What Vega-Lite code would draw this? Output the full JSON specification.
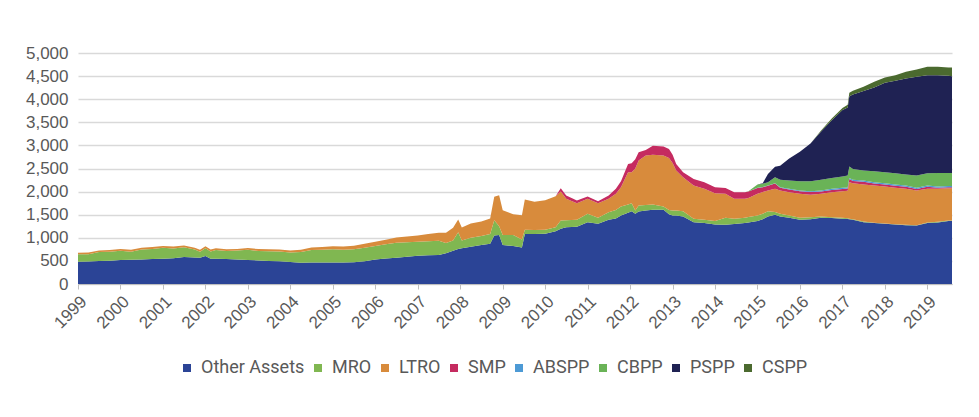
{
  "$schema": "https://vega.github.io/schema/vega-lite/v6.json",
  "width": 874,
  "height": 231,
  "autosize": {"type": "none"},
  "padding": {"left": 78, "top": 53, "right": 27, "bottom": 133},
  "background": "white",
  "data": {"values": [
    {"date": "1999-01-01", "Other Assets": 482, "MRO": 160, "LTRO": 35, "SMP": 0, "ABSPP": 0, "CBPP": 0, "PSPP": 0, "CSPP": 0},
    {"date": "1999-04-01", "Other Assets": 485, "MRO": 157, "LTRO": 38, "SMP": 0, "ABSPP": 0, "CBPP": 0, "PSPP": 0, "CSPP": 0},
    {"date": "1999-07-01", "Other Assets": 500, "MRO": 190, "LTRO": 35, "SMP": 0, "ABSPP": 0, "CBPP": 0, "PSPP": 0, "CSPP": 0},
    {"date": "1999-10-01", "Other Assets": 505, "MRO": 195, "LTRO": 35, "SMP": 0, "ABSPP": 0, "CBPP": 0, "PSPP": 0, "CSPP": 0},
    {"date": "2000-01-01", "Other Assets": 519, "MRO": 201, "LTRO": 40, "SMP": 0, "ABSPP": 0, "CBPP": 0, "PSPP": 0, "CSPP": 0},
    {"date": "2000-04-01", "Other Assets": 525, "MRO": 175, "LTRO": 40, "SMP": 0, "ABSPP": 0, "CBPP": 0, "PSPP": 0, "CSPP": 0},
    {"date": "2000-07-01", "Other Assets": 533, "MRO": 212, "LTRO": 40, "SMP": 0, "ABSPP": 0, "CBPP": 0, "PSPP": 0, "CSPP": 0},
    {"date": "2000-10-01", "Other Assets": 540, "MRO": 220, "LTRO": 40, "SMP": 0, "ABSPP": 0, "CBPP": 0, "PSPP": 0, "CSPP": 0},
    {"date": "2001-01-01", "Other Assets": 548, "MRO": 237, "LTRO": 40, "SMP": 0, "ABSPP": 0, "CBPP": 0, "PSPP": 0, "CSPP": 0},
    {"date": "2001-04-01", "Other Assets": 560, "MRO": 210, "LTRO": 40, "SMP": 0, "ABSPP": 0, "CBPP": 0, "PSPP": 0, "CSPP": 0},
    {"date": "2001-07-01", "Other Assets": 585, "MRO": 210, "LTRO": 40, "SMP": 0, "ABSPP": 0, "CBPP": 0, "PSPP": 0, "CSPP": 0},
    {"date": "2001-10-01", "Other Assets": 575, "MRO": 170, "LTRO": 40, "SMP": 0, "ABSPP": 0, "CBPP": 0, "PSPP": 0, "CSPP": 0},
    {"date": "2001-11-15", "Other Assets": 570, "MRO": 130, "LTRO": 40, "SMP": 0, "ABSPP": 0, "CBPP": 0, "PSPP": 0, "CSPP": 0},
    {"date": "2002-01-01", "Other Assets": 605, "MRO": 170, "LTRO": 40, "SMP": 0, "ABSPP": 0, "CBPP": 0, "PSPP": 0, "CSPP": 0},
    {"date": "2002-02-15", "Other Assets": 545, "MRO": 160, "LTRO": 40, "SMP": 0, "ABSPP": 0, "CBPP": 0, "PSPP": 0, "CSPP": 0},
    {"date": "2002-04-01", "Other Assets": 545, "MRO": 190, "LTRO": 40, "SMP": 0, "ABSPP": 0, "CBPP": 0, "PSPP": 0, "CSPP": 0},
    {"date": "2002-07-01", "Other Assets": 540, "MRO": 175, "LTRO": 35, "SMP": 0, "ABSPP": 0, "CBPP": 0, "PSPP": 0, "CSPP": 0},
    {"date": "2002-10-01", "Other Assets": 530, "MRO": 195, "LTRO": 35, "SMP": 0, "ABSPP": 0, "CBPP": 0, "PSPP": 0, "CSPP": 0},
    {"date": "2003-01-01", "Other Assets": 519, "MRO": 221, "LTRO": 40, "SMP": 0, "ABSPP": 0, "CBPP": 0, "PSPP": 0, "CSPP": 0},
    {"date": "2003-04-01", "Other Assets": 510, "MRO": 205, "LTRO": 40, "SMP": 0, "ABSPP": 0, "CBPP": 0, "PSPP": 0, "CSPP": 0},
    {"date": "2003-07-01", "Other Assets": 500, "MRO": 210, "LTRO": 40, "SMP": 0, "ABSPP": 0, "CBPP": 0, "PSPP": 0, "CSPP": 0},
    {"date": "2003-10-01", "Other Assets": 490, "MRO": 215, "LTRO": 40, "SMP": 0, "ABSPP": 0, "CBPP": 0, "PSPP": 0, "CSPP": 0},
    {"date": "2004-01-01", "Other Assets": 476, "MRO": 204, "LTRO": 45, "SMP": 0, "ABSPP": 0, "CBPP": 0, "PSPP": 0, "CSPP": 0},
    {"date": "2004-04-01", "Other Assets": 461, "MRO": 229, "LTRO": 50, "SMP": 0, "ABSPP": 0, "CBPP": 0, "PSPP": 0, "CSPP": 0},
    {"date": "2004-07-01", "Other Assets": 468, "MRO": 267, "LTRO": 55, "SMP": 0, "ABSPP": 0, "CBPP": 0, "PSPP": 0, "CSPP": 0},
    {"date": "2004-10-01", "Other Assets": 468, "MRO": 272, "LTRO": 60, "SMP": 0, "ABSPP": 0, "CBPP": 0, "PSPP": 0, "CSPP": 0},
    {"date": "2005-01-01", "Other Assets": 468, "MRO": 282, "LTRO": 65, "SMP": 0, "ABSPP": 0, "CBPP": 0, "PSPP": 0, "CSPP": 0},
    {"date": "2005-04-01", "Other Assets": 468, "MRO": 272, "LTRO": 70, "SMP": 0, "ABSPP": 0, "CBPP": 0, "PSPP": 0, "CSPP": 0},
    {"date": "2005-07-01", "Other Assets": 470, "MRO": 280, "LTRO": 80, "SMP": 0, "ABSPP": 0, "CBPP": 0, "PSPP": 0, "CSPP": 0},
    {"date": "2005-10-01", "Other Assets": 495, "MRO": 290, "LTRO": 85, "SMP": 0, "ABSPP": 0, "CBPP": 0, "PSPP": 0, "CSPP": 0},
    {"date": "2006-01-01", "Other Assets": 533, "MRO": 288, "LTRO": 93, "SMP": 0, "ABSPP": 0, "CBPP": 0, "PSPP": 0, "CSPP": 0},
    {"date": "2006-04-01", "Other Assets": 550, "MRO": 310, "LTRO": 100, "SMP": 0, "ABSPP": 0, "CBPP": 0, "PSPP": 0, "CSPP": 0},
    {"date": "2006-07-01", "Other Assets": 569, "MRO": 324, "LTRO": 115, "SMP": 0, "ABSPP": 0, "CBPP": 0, "PSPP": 0, "CSPP": 0},
    {"date": "2006-10-01", "Other Assets": 590, "MRO": 315, "LTRO": 125, "SMP": 0, "ABSPP": 0, "CBPP": 0, "PSPP": 0, "CSPP": 0},
    {"date": "2007-01-01", "Other Assets": 612, "MRO": 302, "LTRO": 137, "SMP": 0, "ABSPP": 0, "CBPP": 0, "PSPP": 0, "CSPP": 0},
    {"date": "2007-04-01", "Other Assets": 620, "MRO": 305, "LTRO": 155, "SMP": 0, "ABSPP": 0, "CBPP": 0, "PSPP": 0, "CSPP": 0},
    {"date": "2007-07-01", "Other Assets": 626, "MRO": 310, "LTRO": 173, "SMP": 0, "ABSPP": 0, "CBPP": 0, "PSPP": 0, "CSPP": 0},
    {"date": "2007-09-01", "Other Assets": 665, "MRO": 220, "LTRO": 225, "SMP": 0, "ABSPP": 0, "CBPP": 0, "PSPP": 0, "CSPP": 0},
    {"date": "2007-11-01", "Other Assets": 720, "MRO": 220, "LTRO": 280, "SMP": 0, "ABSPP": 0, "CBPP": 0, "PSPP": 0, "CSPP": 0},
    {"date": "2007-12-15", "Other Assets": 760, "MRO": 360, "LTRO": 277, "SMP": 0, "ABSPP": 0, "CBPP": 0, "PSPP": 0, "CSPP": 0},
    {"date": "2008-01-15", "Other Assets": 775, "MRO": 165, "LTRO": 284, "SMP": 0, "ABSPP": 0, "CBPP": 0, "PSPP": 0, "CSPP": 0},
    {"date": "2008-04-01", "Other Assets": 806, "MRO": 194, "LTRO": 310, "SMP": 0, "ABSPP": 0, "CBPP": 0, "PSPP": 0, "CSPP": 0},
    {"date": "2008-07-01", "Other Assets": 842, "MRO": 195, "LTRO": 317, "SMP": 0, "ABSPP": 0, "CBPP": 0, "PSPP": 0, "CSPP": 0},
    {"date": "2008-09-15", "Other Assets": 870, "MRO": 210, "LTRO": 338, "SMP": 0, "ABSPP": 0, "CBPP": 0, "PSPP": 0, "CSPP": 0},
    {"date": "2008-10-20", "Other Assets": 1050, "MRO": 330, "LTRO": 506, "SMP": 0, "ABSPP": 0, "CBPP": 0, "PSPP": 0, "CSPP": 0},
    {"date": "2008-12-01", "Other Assets": 1060, "MRO": 190, "LTRO": 672, "SMP": 0, "ABSPP": 0, "CBPP": 0, "PSPP": 0, "CSPP": 0},
    {"date": "2009-01-01", "Other Assets": 842, "MRO": 216, "LTRO": 540, "SMP": 0, "ABSPP": 0, "CBPP": 0, "PSPP": 0, "CSPP": 0},
    {"date": "2009-04-01", "Other Assets": 821, "MRO": 237, "LTRO": 454, "SMP": 0, "ABSPP": 0, "CBPP": 0, "PSPP": 0, "CSPP": 0},
    {"date": "2009-06-15", "Other Assets": 792, "MRO": 173, "LTRO": 525, "SMP": 0, "ABSPP": 0, "CBPP": 0, "PSPP": 0, "CSPP": 0},
    {"date": "2009-07-10", "Other Assets": 1080, "MRO": 95, "LTRO": 654, "SMP": 0, "ABSPP": 0, "CBPP": 0, "PSPP": 0, "CSPP": 0},
    {"date": "2009-10-01", "Other Assets": 1080, "MRO": 90, "LTRO": 608, "SMP": 0, "ABSPP": 0, "CBPP": 0, "PSPP": 0, "CSPP": 0},
    {"date": "2010-01-01", "Other Assets": 1085, "MRO": 90, "LTRO": 639, "SMP": 0, "ABSPP": 0, "CBPP": 0, "PSPP": 0, "CSPP": 0},
    {"date": "2010-04-01", "Other Assets": 1140, "MRO": 91, "LTRO": 669, "SMP": 0, "ABSPP": 0, "CBPP": 0, "PSPP": 0, "CSPP": 0},
    {"date": "2010-05-15", "Other Assets": 1195, "MRO": 180, "LTRO": 625, "SMP": 70, "ABSPP": 0, "CBPP": 0, "PSPP": 0, "CSPP": 0},
    {"date": "2010-07-01", "Other Assets": 1231, "MRO": 149, "LTRO": 463, "SMP": 72, "ABSPP": 0, "CBPP": 0, "PSPP": 0, "CSPP": 0},
    {"date": "2010-10-01", "Other Assets": 1240, "MRO": 150, "LTRO": 360, "SMP": 57, "ABSPP": 0, "CBPP": 0, "PSPP": 0, "CSPP": 0},
    {"date": "2011-01-01", "Other Assets": 1339, "MRO": 180, "LTRO": 324, "SMP": 51, "ABSPP": 0, "CBPP": 0, "PSPP": 0, "CSPP": 0},
    {"date": "2011-04-01", "Other Assets": 1303, "MRO": 130, "LTRO": 317, "SMP": 43, "ABSPP": 0, "CBPP": 0, "PSPP": 0, "CSPP": 0},
    {"date": "2011-07-01", "Other Assets": 1390, "MRO": 165, "LTRO": 288, "SMP": 72, "ABSPP": 0, "CBPP": 0, "PSPP": 0, "CSPP": 0},
    {"date": "2011-09-01", "Other Assets": 1420, "MRO": 180, "LTRO": 351, "SMP": 109, "ABSPP": 0, "CBPP": 0, "PSPP": 0, "CSPP": 0},
    {"date": "2011-10-15", "Other Assets": 1483, "MRO": 195, "LTRO": 417, "SMP": 130, "ABSPP": 0, "CBPP": 0, "PSPP": 0, "CSPP": 0},
    {"date": "2011-12-15", "Other Assets": 1540, "MRO": 180, "LTRO": 699, "SMP": 181, "ABSPP": 0, "CBPP": 0, "PSPP": 0, "CSPP": 0},
    {"date": "2012-01-15", "Other Assets": 1577, "MRO": 173, "LTRO": 669, "SMP": 195, "ABSPP": 0, "CBPP": 0, "PSPP": 0, "CSPP": 0},
    {"date": "2012-02-15", "Other Assets": 1519, "MRO": 72, "LTRO": 909, "SMP": 200, "ABSPP": 0, "CBPP": 0, "PSPP": 0, "CSPP": 0},
    {"date": "2012-03-15", "Other Assets": 1570, "MRO": 130, "LTRO": 971, "SMP": 180, "ABSPP": 0, "CBPP": 0, "PSPP": 0, "CSPP": 0},
    {"date": "2012-05-15", "Other Assets": 1590, "MRO": 120, "LTRO": 1069, "SMP": 123, "ABSPP": 0, "CBPP": 0, "PSPP": 0, "CSPP": 0},
    {"date": "2012-07-15", "Other Assets": 1606, "MRO": 115, "LTRO": 1079, "SMP": 195, "ABSPP": 0, "CBPP": 0, "PSPP": 0, "CSPP": 0},
    {"date": "2012-10-15", "Other Assets": 1606, "MRO": 72, "LTRO": 1101, "SMP": 195, "ABSPP": 0, "CBPP": 0, "PSPP": 0, "CSPP": 0},
    {"date": "2012-12-01", "Other Assets": 1510, "MRO": 90, "LTRO": 1129, "SMP": 194, "ABSPP": 0, "CBPP": 0, "PSPP": 0, "CSPP": 0},
    {"date": "2013-01-01", "Other Assets": 1483, "MRO": 108, "LTRO": 1029, "SMP": 180, "ABSPP": 0, "CBPP": 0, "PSPP": 0, "CSPP": 0},
    {"date": "2013-02-01", "Other Assets": 1483, "MRO": 108, "LTRO": 864, "SMP": 144, "ABSPP": 0, "CBPP": 0, "PSPP": 0, "CSPP": 0},
    {"date": "2013-04-01", "Other Assets": 1462, "MRO": 115, "LTRO": 734, "SMP": 108, "ABSPP": 0, "CBPP": 0, "PSPP": 0, "CSPP": 0},
    {"date": "2013-07-01", "Other Assets": 1339, "MRO": 72, "LTRO": 720, "SMP": 144, "ABSPP": 0, "CBPP": 0, "PSPP": 0, "CSPP": 0},
    {"date": "2013-10-01", "Other Assets": 1318, "MRO": 72, "LTRO": 669, "SMP": 144, "ABSPP": 0, "CBPP": 0, "PSPP": 0, "CSPP": 0},
    {"date": "2014-01-01", "Other Assets": 1289, "MRO": 72, "LTRO": 605, "SMP": 129, "ABSPP": 0, "CBPP": 0, "PSPP": 0, "CSPP": 0},
    {"date": "2014-04-01", "Other Assets": 1282, "MRO": 151, "LTRO": 518, "SMP": 129, "ABSPP": 0, "CBPP": 0, "PSPP": 0, "CSPP": 0},
    {"date": "2014-06-15", "Other Assets": 1300, "MRO": 111, "LTRO": 432, "SMP": 144, "ABSPP": 0, "CBPP": 0, "PSPP": 0, "CSPP": 0},
    {"date": "2014-09-15", "Other Assets": 1318, "MRO": 115, "LTRO": 410, "SMP": 144, "ABSPP": 0, "CBPP": 0, "PSPP": 0, "CSPP": 0},
    {"date": "2014-10-15", "Other Assets": 1330, "MRO": 120, "LTRO": 410, "SMP": 140, "ABSPP": 0, "CBPP": 10, "PSPP": 0, "CSPP": 0},
    {"date": "2015-01-01", "Other Assets": 1361, "MRO": 122, "LTRO": 468, "SMP": 127, "ABSPP": 3, "CBPP": 72, "PSPP": 0, "CSPP": 0},
    {"date": "2015-02-15", "Other Assets": 1400, "MRO": 120, "LTRO": 470, "SMP": 106, "ABSPP": 4, "CBPP": 70, "PSPP": 10, "CSPP": 0},
    {"date": "2015-04-01", "Other Assets": 1462, "MRO": 115, "LTRO": 446, "SMP": 102, "ABSPP": 6, "CBPP": 72, "PSPP": 180, "CSPP": 0},
    {"date": "2015-06-01", "Other Assets": 1498, "MRO": 62, "LTRO": 499, "SMP": 115, "ABSPP": 8, "CBPP": 129, "PSPP": 227, "CSPP": 0},
    {"date": "2015-07-15", "Other Assets": 1462, "MRO": 57, "LTRO": 504, "SMP": 63, "ABSPP": 9, "CBPP": 159, "PSPP": 306, "CSPP": 0},
    {"date": "2015-10-01", "Other Assets": 1433, "MRO": 50, "LTRO": 504, "SMP": 58, "ABSPP": 14, "CBPP": 180, "PSPP": 479, "CSPP": 0},
    {"date": "2016-01-01", "Other Assets": 1390, "MRO": 43, "LTRO": 518, "SMP": 56, "ABSPP": 16, "CBPP": 202, "PSPP": 637, "CSPP": 0},
    {"date": "2016-04-01", "Other Assets": 1404, "MRO": 43, "LTRO": 483, "SMP": 61, "ABSPP": 18, "CBPP": 216, "PSPP": 818, "CSPP": 0},
    {"date": "2016-07-01", "Other Assets": 1433, "MRO": 29, "LTRO": 489, "SMP": 52, "ABSPP": 20, "CBPP": 231, "PSPP": 1046, "CSPP": 20},
    {"date": "2016-10-01", "Other Assets": 1426, "MRO": 21, "LTRO": 540, "SMP": 50, "ABSPP": 22, "CBPP": 238, "PSPP": 1250, "CSPP": 33},
    {"date": "2017-01-01", "Other Assets": 1411, "MRO": 22, "LTRO": 576, "SMP": 49, "ABSPP": 23, "CBPP": 245, "PSPP": 1438, "CSPP": 46},
    {"date": "2017-02-15", "Other Assets": 1405, "MRO": 20, "LTRO": 595, "SMP": 46, "ABSPP": 24, "CBPP": 257, "PSPP": 1474, "CSPP": 59},
    {"date": "2017-03-01", "Other Assets": 1400, "MRO": 15, "LTRO": 788, "SMP": 69, "ABSPP": 25, "CBPP": 245, "PSPP": 1524, "CSPP": 73},
    {"date": "2017-04-01", "Other Assets": 1390, "MRO": 10, "LTRO": 782, "SMP": 47, "ABSPP": 25, "CBPP": 237, "PSPP": 1611, "CSPP": 80},
    {"date": "2017-07-01", "Other Assets": 1339, "MRO": 14, "LTRO": 800, "SMP": 60, "ABSPP": 26, "CBPP": 216, "PSPP": 1720, "CSPP": 93},
    {"date": "2017-10-01", "Other Assets": 1318, "MRO": 7, "LTRO": 806, "SMP": 46, "ABSPP": 26, "CBPP": 238, "PSPP": 1813, "CSPP": 122},
    {"date": "2018-01-01", "Other Assets": 1303, "MRO": 7, "LTRO": 800, "SMP": 46, "ABSPP": 26, "CBPP": 237, "PSPP": 1936, "CSPP": 115},
    {"date": "2018-04-01", "Other Assets": 1289, "MRO": 7, "LTRO": 785, "SMP": 45, "ABSPP": 27, "CBPP": 245, "PSPP": 2000, "CSPP": 123},
    {"date": "2018-07-01", "Other Assets": 1274, "MRO": 8, "LTRO": 777, "SMP": 45, "ABSPP": 27, "CBPP": 238, "PSPP": 2079, "CSPP": 145},
    {"date": "2018-10-01", "Other Assets": 1267, "MRO": 7, "LTRO": 749, "SMP": 31, "ABSPP": 27, "CBPP": 266, "PSPP": 2138, "CSPP": 158},
    {"date": "2019-01-01", "Other Assets": 1318, "MRO": 14, "LTRO": 727, "SMP": 45, "ABSPP": 27, "CBPP": 267, "PSPP": 2123, "CSPP": 180},
    {"date": "2019-04-01", "Other Assets": 1332, "MRO": 14, "LTRO": 713, "SMP": 24, "ABSPP": 27, "CBPP": 295, "PSPP": 2116, "CSPP": 180},
    {"date": "2019-07-01", "Other Assets": 1361, "MRO": 14, "LTRO": 695, "SMP": 23, "ABSPP": 27, "CBPP": 285, "PSPP": 2101, "CSPP": 181},
    {"date": "2019-08-01", "Other Assets": 1361, "MRO": 14, "LTRO": 695, "SMP": 23, "ABSPP": 27, "CBPP": 285, "PSPP": 2094, "CSPP": 188}
  ]},
  "transform": [
    {"fold": ["Other Assets", "MRO", "LTRO", "SMP", "ABSPP", "CBPP", "PSPP", "CSPP"], "as": ["series", "value"]},
    {"window": [{"op": "row_number", "as": "layer"}], "groupby": ["date"]}
  ],
  "mark": {"type": "area", "interpolate": "linear"},
  "encoding": {
    "x": {
      "field": "date", "type": "temporal",
      "scale": {"domain": ["1999-01-01", "2019-08-01"]},
      "axis": {
        "title": null, "format": "%Y", "tickCount": {"interval": "year", "step": 1},
        "labelAngle": -45, "grid": false, "domainColor": "#BFBFBF", "tickColor": "#BFBFBF",
        "tickSize": 5, "labelFont": "Liberation Sans", "labelFontSize": 17, "labelColor": "#595959",
        "labelOverlap": false, "labelPadding": 4
      }
    },
    "y": {
      "field": "value", "type": "quantitative", "stack": "zero",
      "scale": {"domain": [0, 5000], "nice": false},
      "axis": {
        "title": null, "values": [0, 500, 1000, 1500, 2000, 2500, 3000, 3500, 4000, 4500, 5000],
        "format": ",d", "domain": false, "ticks": false, "gridColor": "#D9D9D9", "gridWidth": 1.5,
        "labelFont": "Liberation Sans", "labelFontSize": 17, "labelColor": "#595959", "labelPadding": 10
      }
    },
    "order": {"field": "layer", "type": "quantitative", "sort": "ascending"},
    "color": {
      "field": "series", "type": "nominal",
      "sort": ["Other Assets", "MRO", "LTRO", "SMP", "ABSPP", "CBPP", "PSPP", "CSPP"],
      "scale": {
        "domain": ["Other Assets", "MRO", "LTRO", "SMP", "ABSPP", "CBPP", "PSPP", "CSPP"],
        "range": ["#2B4496", "#80B751", "#D88B3C", "#C52B60", "#4D9AD5", "#6AB357", "#1F2253", "#4B6A2F"]
      },
      "legend": {
        "title": null, "orient": "none", "direction": "horizontal", "legendX": 100, "legendY": 306,
        "symbolType": "square", "symbolSize": 64, "symbolStrokeWidth": 0, "symbolOpacity": 1,
        "labelFont": "Roboto", "labelFontSize": 18, "labelColor": "#595959",
        "labelOffset": 5, "columnPadding": 4, "padding": 0
      }
    }
  },
  "config": {"view": {"stroke": null}}
}
